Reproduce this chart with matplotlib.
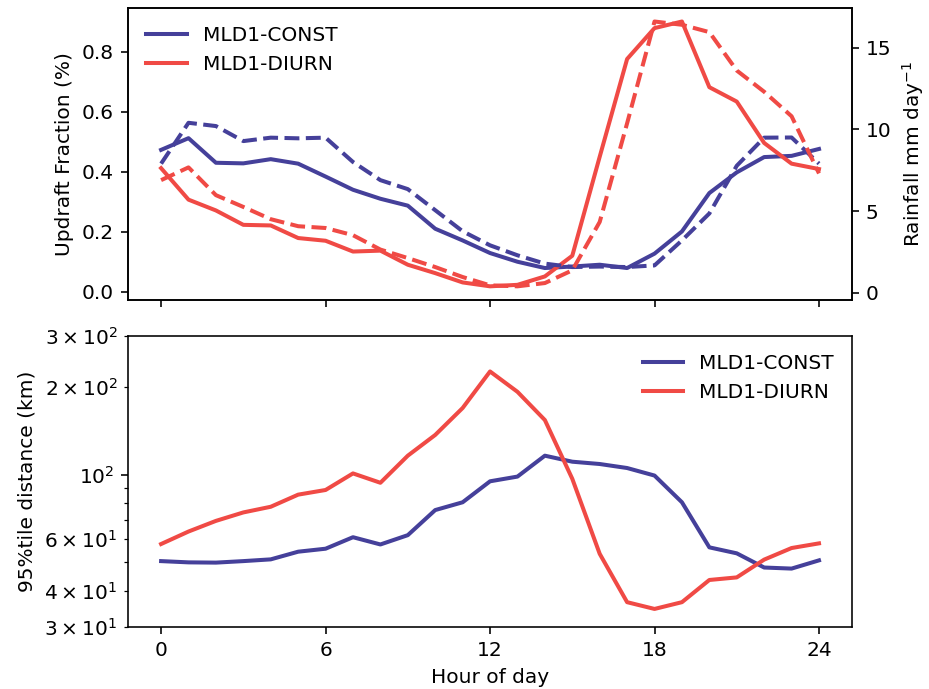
import numpy as np
import matplotlib
matplotlib.use("Agg")
import matplotlib.pyplot as plt

hours = np.arange(25)

# updraft fraction (%) - solid lines, left axis
updraft_const = [0.473, 0.512, 0.430, 0.428, 0.442, 0.427, 0.384, 0.340, 0.310, 0.287,
                 0.210, 0.171, 0.129, 0.100, 0.079, 0.084, 0.090, 0.079, 0.127, 0.201,
                 0.329, 0.398, 0.449, 0.453, 0.476]
updraft_diurn = [0.412, 0.307, 0.271, 0.223, 0.221, 0.179, 0.170, 0.134, 0.137, 0.090,
                 0.062, 0.031, 0.018, 0.023, 0.051, 0.120, 0.450, 0.776, 0.879, 0.901,
                 0.682, 0.634, 0.496, 0.427, 0.409]

# rainfall (mm/day) - dashed lines, right axis
rain_const = [7.9, 10.4, 10.2, 9.28, 9.49, 9.45, 9.49, 8.0, 6.89, 6.34,
              5.05, 3.76, 2.9, 2.29, 1.78, 1.57, 1.6, 1.57, 1.67, 3.2,
              4.85, 7.77, 9.49, 9.5, 7.9]
rain_diurn = [6.89, 7.67, 5.97, 5.25, 4.5, 4.07, 3.96, 3.52, 2.64, 2.12,
              1.57, 0.96, 0.45, 0.39, 0.59, 1.37, 4.33, 10.37, 16.6, 16.4,
              15.95, 13.6, 12.3, 10.8, 7.3]

# 95%tile distance (km)
dist_const = [50.5, 50.0, 49.9, 50.5, 51.2, 54.4, 55.7, 61.0, 57.6, 62.0,
              75.6, 80.4, 94.9, 98.5, 116.2, 110.8, 108.8, 105.4, 99.3, 80.4,
              56.3, 53.7, 48.0, 47.6, 50.8]
dist_diurn = [57.8, 63.8, 69.4, 74.2, 77.6, 85.4, 88.6, 101.0, 93.8, 116.2,
              136.9, 169.4, 226.1, 192.5, 154.0, 96.8, 53.5, 36.5, 34.6, 36.5,
              43.5, 44.4, 51.1, 56.0, 58.1]

c_const = "#45409a"
c_diurn = "#f04a45"
lw = 2.0

fig, (ax1, ax2) = plt.subplots(2, 1, sharex=True, figsize=(929 / 145, 689 / 145), dpi=145)
fig.subplots_adjust(left=0.138, right=0.917, top=0.988, bottom=0.09, hspace=0.124)

ax1.plot(hours, updraft_const, color=c_const, lw=lw, label="MLD1-CONST")
ax1.plot(hours, updraft_diurn, color=c_diurn, lw=lw, label="MLD1-DIURN")
ax1.set_ylabel("Updraft Fraction (%)")
ax1.legend(loc="upper left", frameon=False)

ax1r = ax1.twinx()
ax1r.plot(hours, rain_const, color=c_const, lw=lw, ls="--")
ax1r.plot(hours, rain_diurn, color=c_diurn, lw=lw, ls="--")
ax1r.set_ylabel("Rainfall mm day$^{-1}$")

ax2.plot(hours, dist_const, color=c_const, lw=lw, label="MLD1-CONST")
ax2.plot(hours, dist_diurn, color=c_diurn, lw=lw, label="MLD1-DIURN")
ax2.set_yscale("log")
ax2.set_ylim(30, 300)
ax2.set_ylabel("95%tile distance (km)")
ax2.set_xlabel("Hour of day")
ax2.set_xticks([0, 6, 12, 18, 24])
ax2.legend(loc="upper right", frameon=False)

fig.savefig("out.png", dpi=145)
